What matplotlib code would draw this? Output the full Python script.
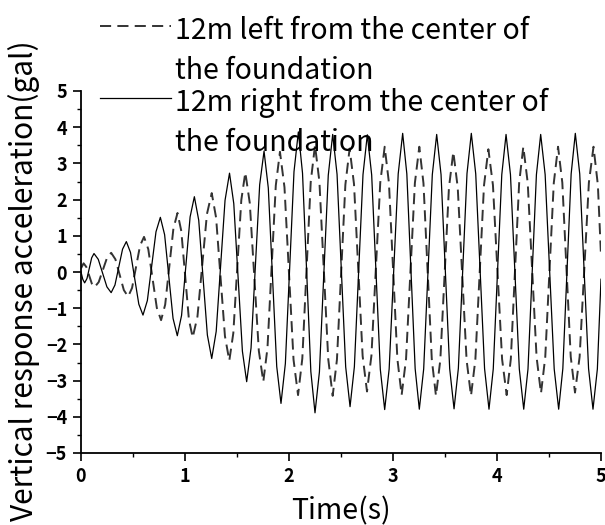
import matplotlib
matplotlib.use("Agg")
import matplotlib.pyplot as plt
from matplotlib.ticker import MultipleLocator

plt.rcParams['lines.scale_dashes'] = False

# ---------------- data ----------------
t_left = [0.000, 0.025, 0.051, 0.0775, 0.104, 0.130, 0.170, 0.210, 0.250, 0.290,
          0.331, 0.3715, 0.412, 0.453, 0.491, 0.5295, 0.568, 0.606, 0.647, 0.688,
          0.729, 0.770, 0.8095, 0.849, 0.8885, 0.928, 0.9645, 1.001, 1.0375, 1.074,
          1.1198, 1.1655, 1.211, 1.257, 1.299, 1.3415, 1.384, 1.426, 1.4645, 1.503,
          1.5415, 1.580, 1.623, 1.6665, 1.710, 1.753, 1.793, 1.833, 1.873, 1.913,
          1.9565, 2.000, 2.0435, 2.087, 2.128, 2.1685, 2.209, 2.250, 2.2925, 2.335,
          2.3775, 2.420, 2.461, 2.5015, 2.542, 2.583, 2.625, 2.6665, 2.708, 2.750,
          2.7925, 2.835, 2.8775, 2.920, 2.961, 3.0015, 3.042, 3.083, 3.1255, 3.168,
          3.2105, 3.253, 3.293, 3.333, 3.373, 3.413, 3.455, 3.4965, 3.538, 3.580,
          3.6225, 3.665, 3.7075, 3.750, 3.792, 3.8335, 3.875, 3.917, 3.961, 4.005,
          4.049, 4.093, 4.133, 4.173, 4.213, 4.253, 4.2955, 4.338, 4.3805, 4.423,
          4.464, 4.505, 4.546, 4.587, 4.628, 4.6685, 4.709, 4.750, 4.7945, 4.839,
          4.8835, 4.928, 4.970, 5.000]
acc_left = [0.10, 0.24, 0.14, -0.09, -0.32, -0.42, -0.28, 0.055, 0.39, 0.53,
            0.35, -0.075, -0.50, -0.68, -0.44, 0.145, 0.73, 0.97, 0.63, -0.18,
            -0.99, -1.33, -0.90, 0.15, 1.20, 1.63, 1.13, -0.09, -1.31, -1.81,
            -1.23, 0.185, 1.60, 2.18, 1.50, -0.135, -1.77, -2.45, -1.69, 0.15,
            1.99, 2.75, 1.90, -0.14, -2.18, -3.03, -2.10, 0.145, 2.39, 3.32,
            2.34, -0.04, -2.42, -3.40, -2.39, 0.05, 2.49, 3.50, 2.49, 0.04,
            -2.41, -3.42, -2.42, -0.005, 2.41, 3.41, 2.43, 0.055, -2.32, -3.30,
            -2.31, 0.08, 2.47, 3.46, 2.46, 0.03, -2.40, -3.40, -2.40, 0.03,
            2.46, 3.46, 2.45, 0.02, -2.41, -3.42, -2.43, -0.05, 2.33, 3.32,
            2.33, -0.05, -2.43, -3.42, -2.42, -0.015, 2.39, 3.39, 2.40, -0.005,
            -2.41, -3.40, -2.40, 0.03, 2.46, 3.46, 2.46, 0.055, -2.35, -3.35,
            -2.35, 0.055, 2.46, 3.46, 2.47, 0.065, -2.34, -3.33, -2.34, 0.065,
            2.47, 3.46, 2.40, 0.45]

t_right = [0.000, 0.017, 0.035, 0.0575, 0.080, 0.1025, 0.125, 0.166, 0.2075, 0.249,
           0.290, 0.3265, 0.363, 0.3995, 0.436, 0.476, 0.516, 0.556, 0.596, 0.638,
           0.6795, 0.721, 0.763, 0.804, 0.8445, 0.885, 0.926, 0.967, 1.008, 1.049,
           1.090, 1.132, 1.1735, 1.215, 1.257, 1.300, 1.3425, 1.385, 1.428, 1.469,
           1.5105, 1.552, 1.593, 1.635, 1.6765, 1.718, 1.760, 1.801, 1.8415, 1.882,
           1.923, 1.965, 2.0065, 2.048, 2.090, 2.130, 2.170, 2.210, 2.250, 2.2925,
           2.335, 2.3775, 2.420, 2.462, 2.5035, 2.545, 2.587, 2.6285, 2.670, 2.7115,
           2.753, 2.795, 2.8365, 2.878, 2.920, 2.963, 3.0065, 3.050, 3.093, 3.133,
           3.173, 3.213, 3.253, 3.295, 3.3365, 3.378, 3.420, 3.462, 3.5035, 3.545,
           3.587, 3.6285, 3.670, 3.7115, 3.753, 3.7955, 3.838, 3.8805, 3.923, 3.964,
           4.005, 4.046, 4.087, 4.1295, 4.172, 4.2145, 4.257, 4.298, 4.3385, 4.379,
           4.420, 4.463, 4.5065, 4.550, 4.593, 4.633, 4.673, 4.713, 4.753, 4.7955,
           4.838, 4.8805, 4.923, 4.965, 5.000]
acc_right = [0.00, -0.20, -0.30, -0.18, 0.105, 0.39, 0.51, 0.35, -0.03, -0.41,
             -0.57, -0.36, 0.135, 0.63, 0.84, 0.54, -0.175, -0.89, -1.19, -0.79,
             0.16, 1.11, 1.51, 1.03, -0.125, -1.28, -1.76, -1.20, 0.16, 1.52,
             2.08, 1.43, -0.155, -1.74, -2.39, -1.64, 0.17, 1.98, 2.73, 1.89,
             -0.15, -2.19, -3.03, -2.10, 0.155, 2.41, 3.34, 2.32, -0.145, -2.61,
             -3.63, -2.53, 0.12, 2.77, 3.87, 2.73, -0.01, -2.75, -3.89, -2.76,
             -0.045, 2.67, 3.80, 2.70, 0.04, -2.62, -3.72, -2.62, 0.035, 2.69,
             3.79, 2.68, -0.005, -2.69, -3.80, -2.68, 0.015, 2.71, 3.83, 2.71,
             0.02, -2.67, -3.79, -2.68, 0.005, 2.69, 3.80, 2.69, 0.01, -2.67,
             -3.78, -2.66, 0.025, 2.72, 3.83, 2.71, 0.02, -2.67, -3.79, -2.68,
             0.005, 2.69, 3.80, 2.69, 0.005, -2.68, -3.79, -2.68, 0.005, 2.69,
             3.80, 2.69, 0.005, -2.68, -3.79, -2.67, 0.02, 2.71, 3.83, 2.71,
             0.02, -2.67, -3.79, -2.68, -0.20]

series_labels = ["12m left from the center of\nthe foundation",
                 "12m right from the center of\nthe foundation"]
x_label = "Time(s)"
y_label = "Vertical response acceleration(gal)"
x_ticks = [0, 1, 2, 3, 4, 5]
y_ticks = [-5, -4, -3, -2, -1, 0, 1, 2, 3, 4, 5]

# ---------------- figure ----------------
W, H = 605, 525
fig = plt.figure(figsize=(W / 100, H / 100), dpi=100)
ax = fig.add_axes([81 / W, 72 / H, 520 / W, 362 / H])

fam = ['Noto Sans CJK JP', 'DejaVu Sans']
FS = 20.5

ax.plot(t_left, acc_left, color='#333333', lw=1.4, dashes=(8, 4.5),
        label=series_labels[0], solid_joinstyle='round', dash_joinstyle='round')
ax.plot(t_right, acc_right, color='black', lw=0.9, label=series_labels[1],
        solid_joinstyle='round')

ax.set_xlim(0, 5)
ax.set_ylim(-5, 5)
ax.set_xticks(x_ticks)
ax.set_yticks(y_ticks)
ax.xaxis.set_minor_locator(MultipleLocator(0.5))
ax.yaxis.set_minor_locator(MultipleLocator(0.5))

for s in ['top', 'right']:
    ax.spines[s].set_visible(False)
for s in ['left', 'bottom']:
    ax.spines[s].set_linewidth(1.3)

ax.tick_params(which='major', direction='out', length=6, width=1.2, pad=4)
ax.tick_params(which='minor', direction='out', length=3, width=1.0)
for lab in ax.get_xticklabels() + ax.get_yticklabels():
    lab.set_fontfamily(fam)
    lab.set_fontweight('bold')
    lab.set_fontsize(13)

ax.set_xlabel(x_label, family=fam, fontsize=FS, va='top')
ax.set_ylabel(y_label, family=fam, fontsize=21.5)
ax.xaxis.set_label_coords(0.5, -0.119)
ax.yaxis.set_label_coords(-0.078, 0.475)

leg = ax.legend(loc='upper left', bbox_to_anchor=(100 / W, 1 - 16 / H),
                bbox_transform=fig.transFigure, frameon=False,
                prop={'family': fam, 'size': FS},
                borderpad=0, borderaxespad=0, handlelength=2.5,
                handletextpad=0.14, labelspacing=0.08)
for txt in leg.get_texts():
    txt.set_linespacing(1.42)
for col in leg._legend_handle_box.get_children():
    for item in col.get_children():
        item.align = 'top'

fig.savefig('out.png', dpi=100)
